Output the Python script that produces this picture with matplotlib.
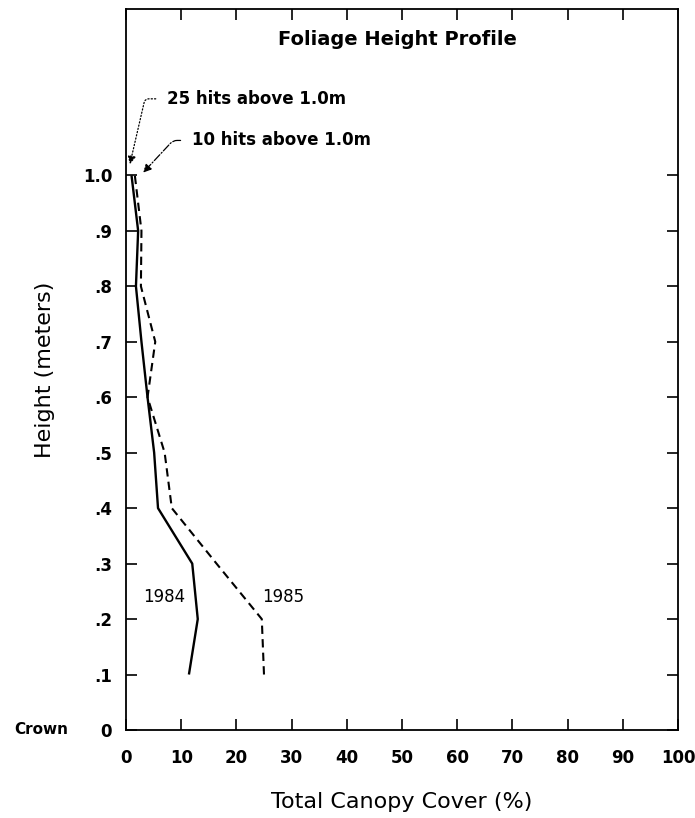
import matplotlib
matplotlib.use("Agg")
import matplotlib.pyplot as plt

# Foliage height profile data
heights = [0.1, 0.2, 0.3, 0.4, 0.5, 0.6, 0.7, 0.8, 0.9, 1.0]
cover_1984 = [11.4, 13.0, 12.0, 5.8, 5.1, 3.9, 2.8, 1.8, 2.2, 1.0]
cover_1985 = [25.0, 24.6, 16.4, 8.3, 7.0, 3.9, 5.3, 2.7, 2.8, 1.6]

x_ticks = [0, 10, 20, 30, 40, 50, 60, 70, 80, 90, 100]
y_ticks = [0, 0.1, 0.2, 0.3, 0.4, 0.5, 0.6, 0.7, 0.8, 0.9, 1.0]
y_ticklabels = ["0", ".1", ".2", ".3", ".4", ".5", ".6", ".7", ".8", ".9", "1.0"]

plt.rcParams["font.family"] = "DejaVu Sans"

fig = plt.figure(figsize=(6.95, 8.18), dpi=100)
ax = fig.add_axes([0.1813, 0.1076, 0.7942, 0.8814])

ax.plot(cover_1984, heights, color="black", lw=1.7, solid_capstyle="butt")
ax.plot(cover_1985, heights, color="black", lw=1.5, dashes=(4, 2.5))

ax.set_xlim(0, 100)
ax.set_ylim(0, 1.3)
ax.set_xticks(x_ticks)
ax.set_xticklabels([str(t) for t in x_ticks], fontweight="bold", fontsize=12)
ax.set_yticks(y_ticks)
ax.set_yticklabels(y_ticklabels, fontweight="bold", fontsize=12)
ax.tick_params(direction="in", length=8, width=1.2, top=True, right=True, pad=10)
ax.tick_params(axis="x", pad=14)

for s in ax.spines.values():
    s.set_linewidth(1.3)

ax.set_xlabel("Total Canopy Cover (%)", fontsize=16, labelpad=18)
ax.set_ylabel("Height (meters)", fontsize=16, labelpad=20)

ax.text(49.2, 1.245, "Foliage Height Profile", fontsize=14, fontweight="bold",
        ha="center", va="center")
# "Crown" sits next to the 0 tick label
ax.text(-10.5, 0, "Crown", fontsize=11, fontweight="bold", ha="right", va="center",
        clip_on=False)

ax.text(6.9, 0.24, "1984", fontsize=12, ha="center", va="center")
ax.text(28.4, 0.24, "1985", fontsize=12, ha="center", va="center")

ax.annotate("25 hits above 1.0m", xy=(0.7, 1.02), xytext=(7.4, 1.138),
            fontsize=12, fontweight="bold", va="center", ha="left",
            arrowprops=dict(arrowstyle="-|>", color="black", lw=0.9, ls=":",
                            shrinkA=6, shrinkB=0, relpos=(0, 0.5),
                            connectionstyle="angle,angleA=0,angleB=77,rad=4"))
ax.annotate("10 hits above 1.0m", xy=(3.1, 1.005), xytext=(11.9, 1.063),
            fontsize=12, fontweight="bold", va="center", ha="left",
            arrowprops=dict(arrowstyle="-|>", color="black", lw=0.9, ls="-.",
                            shrinkA=6, shrinkB=0, relpos=(0, 0.5),
                            connectionstyle="angle,angleA=0,angleB=47,rad=4"))

fig.savefig("out.png", dpi=100)
